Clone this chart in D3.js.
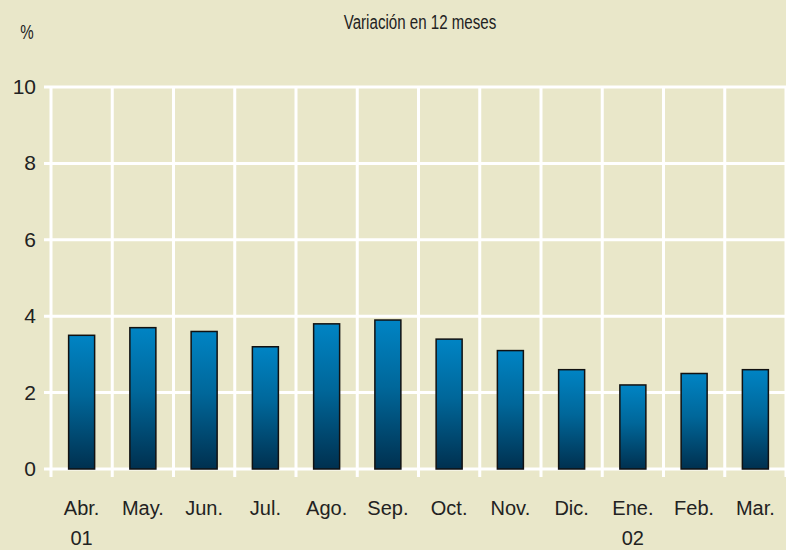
<!DOCTYPE html>
<html>
<head>
<meta charset="utf-8">
<script src="https://cdn.jsdelivr.net/npm/d3@7"></script>
<style>
  body { margin: 0; background: #e9e7c9; }
  svg { display: block; }
</style>
</head>
<body>
<svg id="chart" width="786" height="550"></svg>
<script>
// data
var months = ["Abr.", "May.", "Jun.", "Jul.", "Ago.", "Sep.", "Oct.", "Nov.", "Dic.", "Ene.", "Feb.", "Mar."];
var years = ["01", "", "", "", "", "", "", "", "", "02", "", ""];
var values = [3.5, 3.7, 3.6, 3.2, 3.8, 3.9, 3.4, 3.1, 2.6, 2.2, 2.5, 2.6];
var yTicks = [0, 2, 4, 6, 8, 10];

var svg = d3.select("#chart");
var plotLeft = 51, plotRight = 786, plotTop = 87, plotBottom = 469;

svg.append("rect").attr("width", 786).attr("height", 550).attr("fill", "#e9e7c9");

var x = d3.scaleBand().domain(months).range([plotLeft, plotRight]).paddingInner(0).paddingOuter(0);
var y = d3.scaleLinear().domain([0, 10]).range([plotBottom, plotTop]);

// gradient for bars
var defs = svg.append("defs");
var grad = defs.append("linearGradient").attr("id", "barGrad")
  .attr("x1", 0).attr("y1", 0).attr("x2", 0).attr("y2", 1);
grad.append("stop").attr("offset", "0%").attr("stop-color", "#0084c4");
grad.append("stop").attr("offset", "45%").attr("stop-color", "#00679a");
grad.append("stop").attr("offset", "100%").attr("stop-color", "#00304f");

// horizontal grid lines
svg.append("g").selectAll("line").data(yTicks).enter().append("line")
  .attr("x1", plotLeft - 7).attr("x2", plotRight)
  .attr("y1", function(d){ return y(d); })
  .attr("y2", function(d){ return y(d); })
  .attr("stroke", "#ffffff").attr("stroke-width", 3);

// vertical grid lines
var vlines = months.map(function(m){ return x(m); }).concat([plotRight]);
svg.append("g").selectAll("line").data(vlines).enter().append("line")
  .attr("x1", function(d){ return d; }).attr("x2", function(d){ return d; })
  .attr("y1", plotTop).attr("y2", plotBottom + 8)
  .attr("stroke", "#ffffff").attr("stroke-width", 3);

// bars
var bw = 26;
svg.append("g").selectAll("rect").data(values).enter().append("rect")
  .attr("x", function(d, i){ return x(months[i]) + x.bandwidth() / 2 - bw / 2; })
  .attr("y", function(d){ return y(d); })
  .attr("width", bw)
  .attr("height", function(d){ return y(0) - y(d); })
  .attr("fill", "url(#barGrad)")
  .attr("stroke", "#111111").attr("stroke-width", 1.5);

// y labels
svg.append("g").selectAll("text").data(yTicks).enter().append("text")
  .attr("x", 36)
  .attr("y", function(d){ return y(d) + 7; })
  .attr("text-anchor", "end")
  .attr("font-family", "Liberation Sans, Arial, sans-serif")
  .attr("font-size", 21)
  .attr("fill", "#222")
  .text(function(d){ return d; });

// x labels
svg.append("g").selectAll("text").data(months).enter().append("text")
  .attr("x", function(d){ return x(d) + x.bandwidth() / 2; })
  .attr("y", 515)
  .attr("text-anchor", "middle")
  .attr("font-family", "Liberation Sans, Arial, sans-serif")
  .attr("font-size", 20)
  .attr("fill", "#222")
  .text(function(d){ return d; });

svg.append("g").selectAll("text").data(years).enter().append("text")
  .attr("x", function(d, i){ return x(months[i]) + x.bandwidth() / 2; })
  .attr("y", 545)
  .attr("text-anchor", "middle")
  .attr("font-family", "Liberation Sans, Arial, sans-serif")
  .attr("font-size", 20)
  .attr("fill", "#222")
  .text(function(d){ return d; });

// title and unit (condensed look)
svg.append("text")
  .attr("transform", "translate(420,29) scale(0.72,1)")
  .attr("text-anchor", "middle")
  .attr("font-family", "Liberation Sans, Arial, sans-serif")
  .attr("font-size", 21)
  .attr("fill", "#222")
  .text("Variación en 12 meses");

svg.append("text")
  .attr("transform", "translate(27,39) scale(0.72,1)")
  .attr("text-anchor", "middle")
  .attr("font-family", "Liberation Sans, Arial, sans-serif")
  .attr("font-size", 21)
  .attr("fill", "#222")
  .text("%");
</script>
</body>
</html>
